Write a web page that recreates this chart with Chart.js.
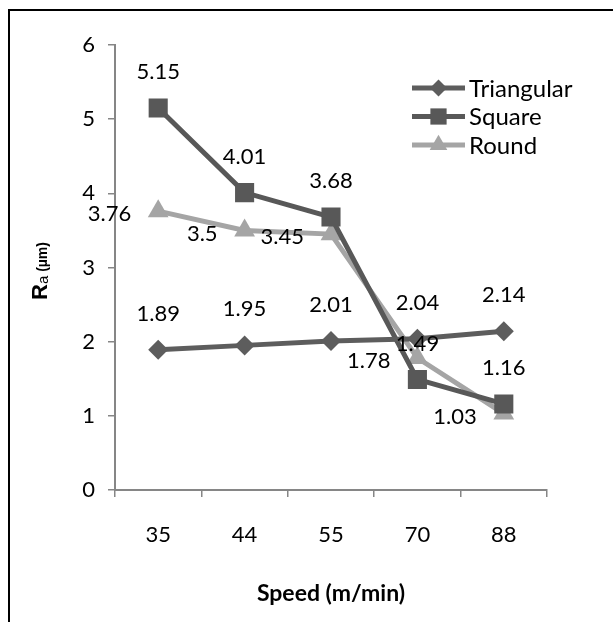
<!DOCTYPE html>
<html>
<head>
<meta charset="utf-8">
<script src="https://cdn.jsdelivr.net/npm/chart.js@4"></script>
<style>
  html, body { margin: 0; padding: 0; background: #fff; overflow: hidden; }
  #frame { position: absolute; left: 8px; top: 9px; width: 700px; height: 700px;
           border-left: 2px solid #000; border-top: 2px solid #000; }
  #chart { position: absolute; left: 0; top: 0; }
</style>
</head>
<body>
<div id="frame"></div>
<canvas id="chart" width="613" height="622"></canvas>
<script>
const speeds = ['35', '44', '55', '70', '88'];
const triangular = [1.89, 1.95, 2.01, 2.04, 2.14];
const square = [5.15, 4.01, 3.68, 1.49, 1.16];
const round = [3.76, 3.5, 3.45, 1.78, 1.03];
const yMin = 0, yMax = 6, yStep = 1;

const FONT = 'Lato, "Open Sans", sans-serif';
const axisGray = '#868686';

function marker(ctx, style, x, y, r, color) {
  ctx.fillStyle = color;
  ctx.beginPath();
  if (style === 'rectRot') {
    ctx.moveTo(x, y - r); ctx.lineTo(x + r, y); ctx.lineTo(x, y + r); ctx.lineTo(x - r, y);
  } else if (style === 'rect') {
    const s = r * Math.SQRT1_2;
    ctx.rect(x - s, y - s, 2 * s, 2 * s);
  } else {
    ctx.moveTo(x, y - r);
    ctx.lineTo(x + r * Math.sin(2 * Math.PI / 3), y - r * Math.cos(2 * Math.PI / 3));
    ctx.lineTo(x + r * Math.sin(4 * Math.PI / 3), y - r * Math.cos(4 * Math.PI / 3));
  }
  ctx.closePath();
  ctx.fill();
}

// value labels + legend + y title
const extras = {
  id: 'extras',
  afterDatasetsDraw(chart) {
    const ctx = chart.ctx;
    ctx.save();
    ctx.font = '22px ' + FONT;
    ctx.fillStyle = '#000';
    ctx.textBaseline = 'middle';
    chart.data.datasets.forEach((ds, i) => {
      const meta = chart.getDatasetMeta(i);
      meta.data.forEach((pt, j) => {
        const txt = String(ds.data[j]);
        if (ds.labelSide === 'left') {
          ctx.textAlign = 'right';
          ctx.fillText(txt, pt.x - 27, pt.y + 3);
        } else {
          ctx.textAlign = 'center';
          ctx.fillText(txt, pt.x, pt.y - 36);
        }
      });
    });

    // legend
    const lx = 412, lw = 53;
    ctx.font = '24px ' + FONT;
    ctx.textAlign = 'left';
    chart.data.datasets.forEach((ds, i) => {
      const y = 88 + i * 28.5;
      ctx.strokeStyle = ds.borderColor;
      ctx.lineWidth = 5;
      ctx.beginPath();
      ctx.moveTo(lx, y); ctx.lineTo(lx + lw, y);
      ctx.stroke();
      marker(ctx, ds.pointStyle, lx + lw / 2, y, ds.pointRadius * 0.85, ds.borderColor);
      ctx.fillStyle = '#000';
      ctx.fillText(ds.label, lx + lw + 4, y + 1);
    });

    // y axis title: R_a (µm)
    ctx.translate(47, 271);
    ctx.rotate(-Math.PI / 2);
    ctx.textBaseline = 'alphabetic';
    ctx.textAlign = 'left';
    const parts = [
      ['bold 22px "Liberation Sans", Arial, sans-serif', 'R', 0],
      ['15px "Liberation Sans", Arial, sans-serif', 'a', 1],
      ['bold 14px "Liberation Sans", Arial, sans-serif', ' (\u00b5m)', 0]
    ];
    let total = 0;
    parts.forEach(p => { ctx.font = p[0]; total += ctx.measureText(p[1]).width; });
    let x = -total / 2;
    parts.forEach(p => {
      ctx.font = p[0];
      ctx.fillText(p[1], x, p[2]);
      x += ctx.measureText(p[1]).width;
    });
    ctx.restore();
  }
};

new Chart(document.getElementById('chart'), {
  type: 'line',
  data: {
    labels: speeds,
    datasets: [
      { label: 'Triangular', data: triangular, borderColor: '#5d5d5d', backgroundColor: '#5d5d5d',
        pointStyle: 'rectRot', pointRadius: 10, labelSide: 'top' },
      { label: 'Square', data: square, borderColor: '#585858', backgroundColor: '#585858',
        pointStyle: 'rect', pointRadius: 13.5, labelSide: 'top' },
      { label: 'Round', data: round, borderColor: '#a5a5a5', backgroundColor: '#a5a5a5',
        pointStyle: 'triangle', pointRadius: 12, labelSide: 'left' }
    ].map(d => Object.assign({
      borderWidth: 5, pointBorderWidth: 0, tension: 0, fill: false, pointHoverRadius: d.pointRadius
    }, d))
  },
  options: {
    responsive: false,
    animation: false,
    layout: { padding: { left: 0, right: 66, top: 45, bottom: 0 } },
    plugins: { legend: { display: false }, tooltip: { enabled: false } },
    scales: {
      x: {
        offset: true,
        grid: { offset: true, drawOnChartArea: false, drawTicks: true, tickLength: 7,
                color: axisGray, lineWidth: 1.5 },
        border: { color: axisGray, width: 2 },
        ticks: { color: '#000', font: { family: FONT, size: 22 }, padding: 25, maxRotation: 0 },
        title: { display: true, text: 'Speed (m/min)', color: '#000',
                 font: { family: FONT, size: 23, weight: 'bold' }, padding: { top: 4, bottom: 15 } },
        afterFit(s) { s.height = 132; }
      },
      y: {
        min: yMin, max: yMax,
        grid: { drawOnChartArea: false, drawTicks: true, tickLength: 7, color: axisGray, lineWidth: 1.5 },
        border: { color: axisGray, width: 2 },
        ticks: { stepSize: yStep, color: '#000', font: { family: FONT, size: 22 }, padding: 13 },
        afterFit(s) { s.width = 115; }
      }
    }
  },
  plugins: [extras]
});
</script>
</body>
</html>
